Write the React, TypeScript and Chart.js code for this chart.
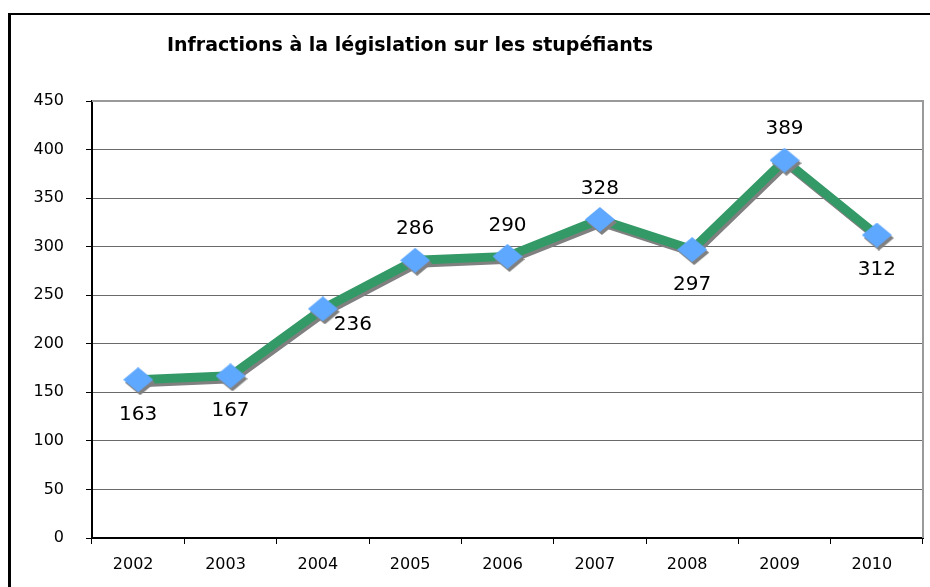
import React, { useEffect, useRef } from 'react';
import { Chart, registerables } from 'chart.js';

Chart.register(...registerables);

const chartTitle = 'Infractions à la législation sur les stupéfiants';
const years = ['2002', '2003', '2004', '2005', '2006', '2007', '2008', '2009', '2010'];
const infractions = [163, 167, 236, 286, 290, 328, 297, 389, 312];
const labelPositions = ['below', 'below', 'right', 'above', 'above', 'above', 'below', 'above', 'below'];
const yMin = 0;
const yMax = 450;
const yStep = 50;

const FONT = '"DejaVu Sans", Verdana, sans-serif';

export default function App() {
  const canvasRef = useRef<HTMLCanvasElement>(null);

  useEffect(() => {
    const canvas = canvasRef.current;
    if (!canvas) return;

    const diamond = document.createElement('canvas');
    diamond.width = 30;
    diamond.height = 25;
    const dctx = diamond.getContext('2d')!;
    dctx.fillStyle = '#5FA8FF';
    dctx.beginPath();
    dctx.moveTo(15, 0);
    dctx.lineTo(30, 12.5);
    dctx.lineTo(15, 25);
    dctx.lineTo(0, 12.5);
    dctx.closePath();
    dctx.fill();

    const shadowPlugin = {
      id: 'shadowPlugin',
      beforeDatasetDraw(chart: any) {
        const ctx = chart.ctx;
        ctx.save();
        ctx.shadowColor = '#808080';
        ctx.shadowOffsetX = 2;
        ctx.shadowOffsetY = 3;
        ctx.shadowBlur = 0;
      },
      afterDatasetDraw(chart: any) {
        chart.ctx.restore();
      },
    };

    const framePlugin = {
      id: 'framePlugin',
      beforeDatasetsDraw(chart: any) {
        const { ctx, chartArea } = chart;
        ctx.save();
        ctx.strokeStyle = '#9a9a9a';
        ctx.lineWidth = 2;
        ctx.beginPath();
        ctx.moveTo(chartArea.left, chartArea.top);
        ctx.lineTo(chartArea.right, chartArea.top);
        ctx.lineTo(chartArea.right, chartArea.bottom);
        ctx.stroke();
        ctx.restore();
      },
    };

    const labelPlugin = {
      id: 'valueLabels',
      afterDatasetsDraw(chart: any) {
        const { ctx } = chart;
        const meta = chart.getDatasetMeta(0);
        ctx.save();
        ctx.font = `20px ${FONT}`;
        ctx.fillStyle = '#000';
        ctx.textAlign = 'center';
        ctx.textBaseline = 'middle';
        meta.data.forEach((pt: any, i: number) => {
          const pos = labelPositions[i];
          let dx = 0;
          let dy = 0;
          if (pos === 'above') dy = -31;
          else if (pos === 'below') dy = 35;
          else if (pos === 'right') {
            dx = 30;
            dy = 16;
          }
          ctx.fillText(String(infractions[i]), pt.x + dx, pt.y + dy);
        });
        ctx.restore();
      },
    };

    const chart = new Chart(canvas, {
      type: 'line',
      data: {
        labels: years,
        datasets: [
          {
            data: infractions,
            borderColor: '#339966',
            borderWidth: 9,
            tension: 0,
            pointStyle: diamond as any,
            pointRadius: 12,
            pointHoverRadius: 12,
            backgroundColor: '#5FA8FF',
            borderJoinStyle: 'round',
          },
        ],
      },
      options: {
        responsive: false,
        animation: false,
        layout: { autoPadding: false, padding: { top: 101, right: 7, left: 0, bottom: 0 } },
        plugins: {
          legend: { display: false },
          tooltip: { enabled: false },
          title: { display: false },
        },
        scales: {
          x: {
            offset: true,
            grid: {
              drawOnChartArea: false,
              offset: true,
              tickLength: 6,
              tickColor: '#000',
            },
            border: { color: '#000', width: 2 },
            ticks: {
              color: '#000',
              font: { family: FONT, size: 16 },
              padding: 11,
              labelOffset: -5,
              maxRotation: 0,
            },
            afterFit(scale: any) {
              scale.height = 49;
              scale.paddingLeft = 0;
              scale.paddingRight = 0;
            },
          },
          y: {
            min: yMin,
            max: yMax,
            ticks: {
              stepSize: yStep,
              color: '#000',
              font: { family: FONT, size: 16 },
              padding: 22,
            },
            grid: {
              color: '#6a6a6a',
              lineWidth: 1,
              tickLength: 6,
              tickColor: '#000',
            },
            border: { color: '#000', width: 2 },
            afterFit(scale: any) {
              scale.width = 92;
            },
          },
        },
      },
      plugins: [framePlugin, shadowPlugin, labelPlugin],
    });

    return () => chart.destroy();
  }, []);

  return (
    <div
      style={{
        position: 'fixed',
        left: 0,
        top: 0,
        width: 930,
        height: 587,
        overflow: 'hidden',
        background: '#fff',
      }}
    >
      <div
        style={{
          position: 'absolute',
          left: 8,
          top: 13,
          width: 2000,
          height: 2000,
          borderLeft: '3px solid #000',
          borderTop: '2px solid #000',
        }}
      />
      <canvas
        ref={canvasRef}
        width={930}
        height={587}
        style={{ position: 'absolute', left: 0, top: 0, width: 930, height: 587 }}
      />
      <div
        style={{
          position: 'absolute',
          left: 167,
          top: 33,
          fontFamily: FONT,
          fontWeight: 'bold',
          fontSize: 19,
          whiteSpace: 'nowrap',
          color: '#000',
        }}
      >
        {chartTitle}
      </div>
    </div>
  );
}
